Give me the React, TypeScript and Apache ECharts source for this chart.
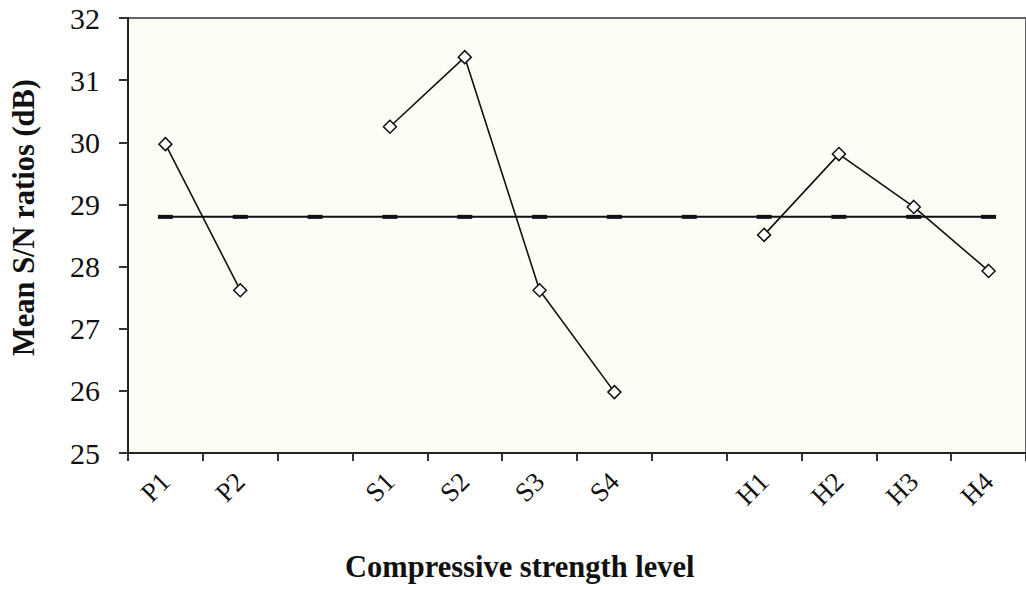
import React, { useEffect, useRef } from "react";
import * as echarts from "echarts";

const categories = ["P1", "P2", "", "S1", "S2", "S3", "S4", "", "H1", "H2", "H3", "H4"];
const snValues: (number | null)[] = [29.97, 27.62, null, 30.25, 31.37, 27.62, 25.98, null, 28.51, 29.81, 28.96, 27.93];
const meanValue = 28.8;
const meanValues = categories.map(() => meanValue);
const yMin = 25;
const yMax = 32;
const yInterval = 1;
const xTitle = "Compressive strength level";
const yTitle = "Mean S/N ratios (dB)";

export default function App() {
  const ref = useRef<HTMLDivElement>(null);
  useEffect(() => {
    if (!ref.current) return;
    const chart = echarts.init(ref.current, undefined, { renderer: "svg" });
    const serif = "'Liberation Serif', 'Times New Roman', serif";
    chart.setOption({
      animation: false,
      backgroundColor: "#ffffff",
      grid: {
        left: 128,
        top: 18,
        width: 906,
        height: 435,
        show: true,
        backgroundColor: "#fdfdf6",
        borderColor: "#333",
        borderWidth: 1.5,
      },
      xAxis: {
        type: "category",
        data: categories,
        boundaryGap: true,
        axisLine: { lineStyle: { color: "#222", width: 2 } },
        axisTick: { show: true, length: 8, alignWithLabel: false, interval: 0, lineStyle: { color: "#333", width: 2 } },
        axisLabel: {
          interval: 0,
          rotate: 45,
          margin: 24,
          fontFamily: serif,
          fontSize: 27,
          color: "#111",
        },
        splitLine: { show: false },
      },
      yAxis: {
        type: "value",
        min: yMin,
        max: yMax,
        interval: yInterval,
        axisLine: { show: true, lineStyle: { color: "#222", width: 2 } },
        axisTick: { show: true, length: 9, lineStyle: { color: "#333", width: 2 } },
        axisLabel: {
          margin: 28,
          fontFamily: serif,
          fontSize: 30,
          color: "#111",
        },
        splitLine: { show: false },
      },
      graphic: [
        {
          type: "text",
          x: 345,
          y: 567,
          style: {
            text: xTitle,
            font: `bold 30.5px ${serif}`,
            fill: "#111",
            textAlign: "left",
            textVerticalAlign: "middle",
          },
        },
        {
          type: "text",
          x: 8,
          y: 356,
          rotation: Math.PI / 2,
          style: {
            text: yTitle,
            font: `bold 30.5px ${serif}`,
            fill: "#111",
            textAlign: "left",
            textVerticalAlign: "top",
          },
        },
      ],
      series: [
        {
          type: "line",
          data: meanValues,
          symbol: "rect",
          symbolSize: [15, 4],
          showAllSymbol: true,
          lineStyle: { color: "#111", width: 2 },
          itemStyle: { color: "#111", borderWidth: 0 },
          z: 2,
        },
        {
          type: "line",
          data: snValues,
          connectNulls: false,
          symbol: "diamond",
          symbolSize: 13,
          showAllSymbol: true,
          lineStyle: { color: "#111", width: 1.6 },
          itemStyle: { color: "#ffffff", borderColor: "#111", borderWidth: 1.5 },
          z: 3,
        },
      ],
    });
    return () => chart.dispose();
  }, []);
  return (
    <div
      ref={ref}
      style={{ position: "absolute", left: 0, top: 0, width: 1026, height: 590 }}
    />
  );
}
